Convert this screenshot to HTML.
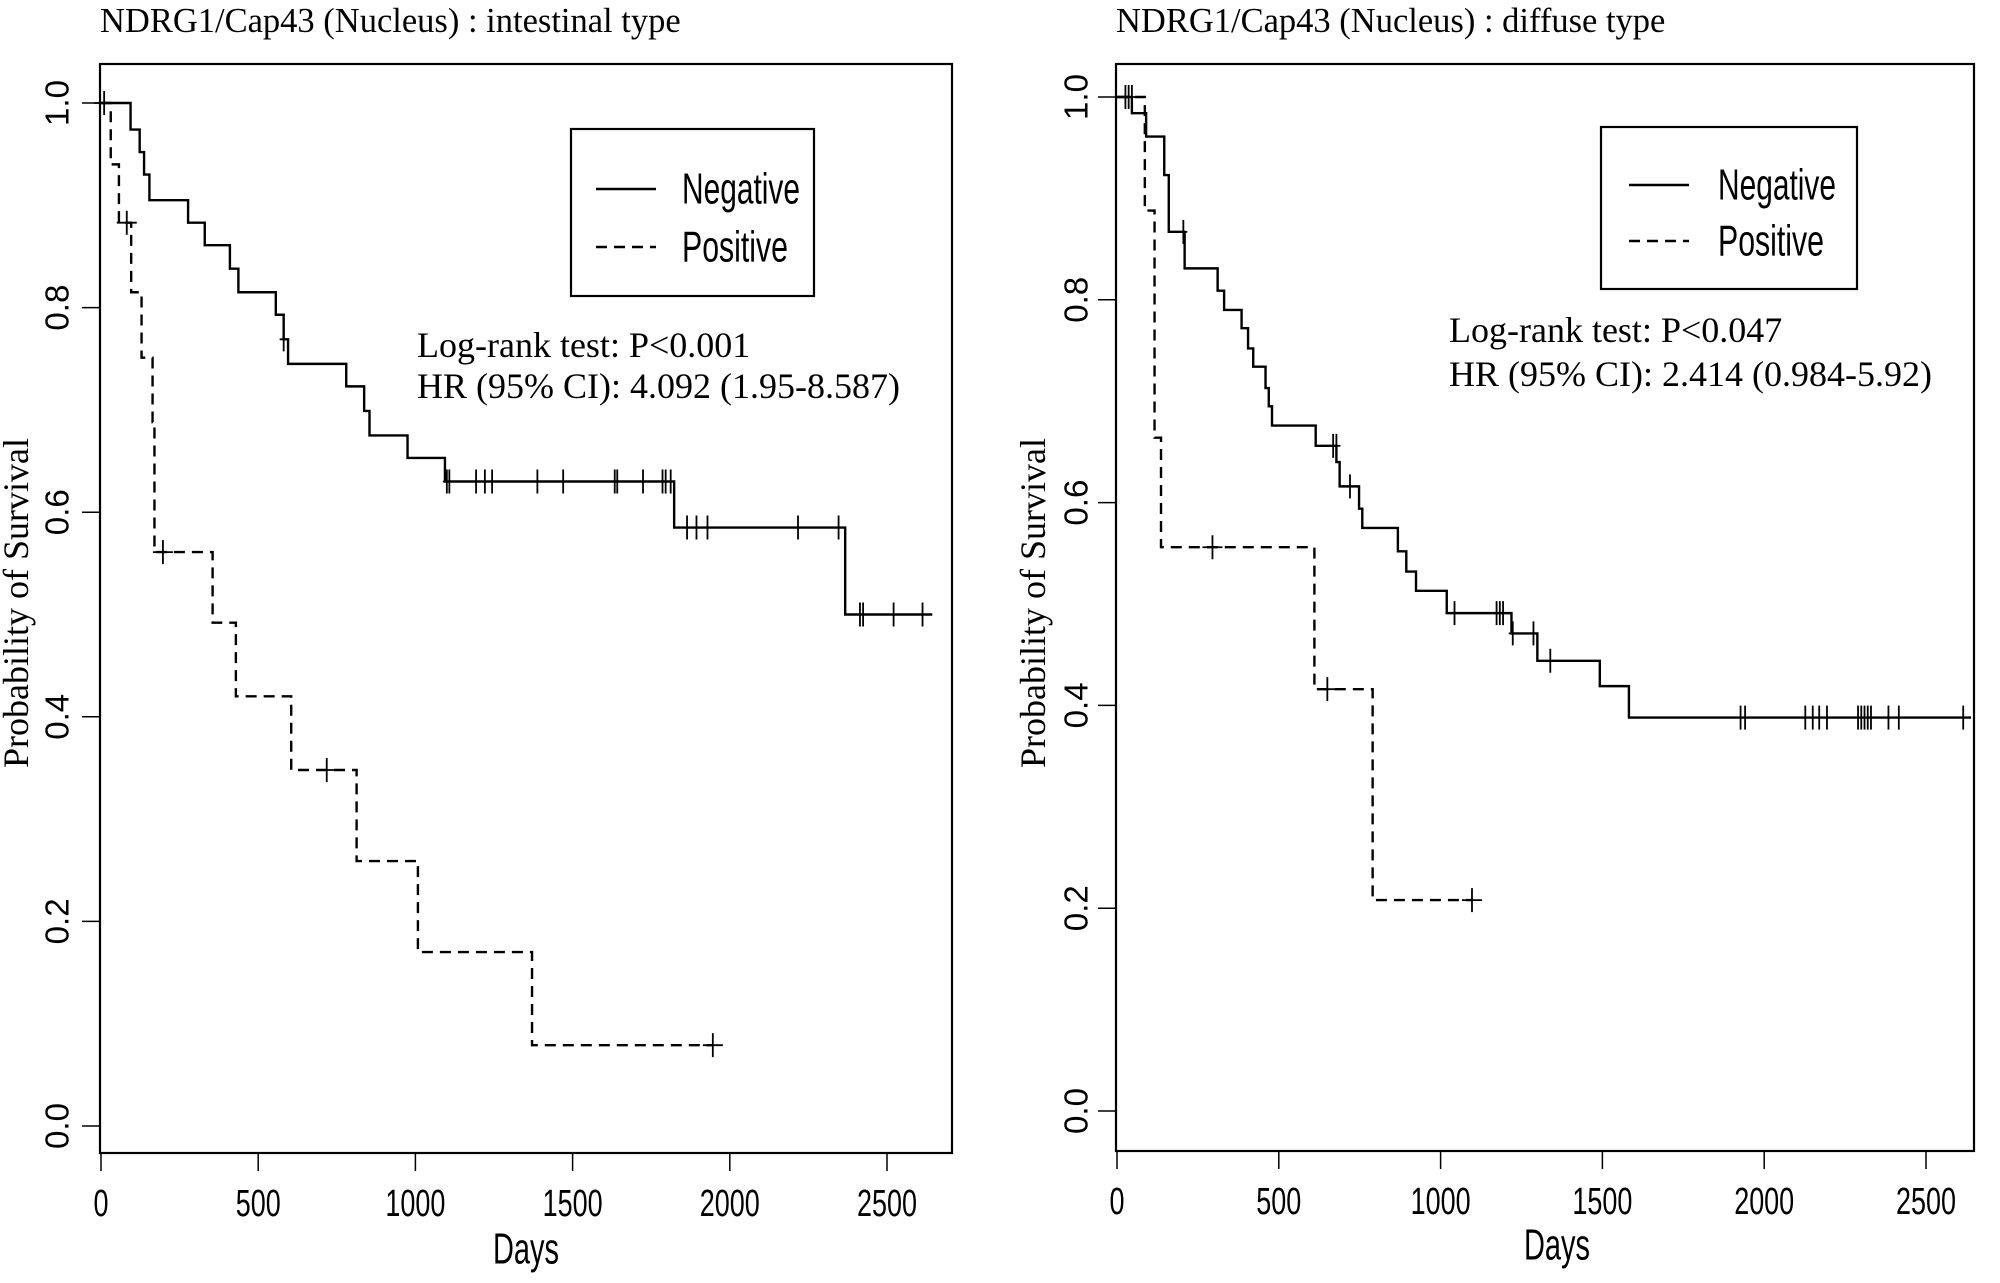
<!DOCTYPE html>
<html><head><meta charset="utf-8"><style>
html,body{margin:0;padding:0;background:#fff;}
svg{display:block;}
</style></head><body>
<svg id="chart" width="2000" height="1283" viewBox="0 0 2000 1283" xmlns="http://www.w3.org/2000/svg"></svg>
<script>
// ---- Data: left panel (intestinal type) ----
const leftNegSteps = [[0,1.0],[94,0.974],[123,0.952],[137,0.930],[154,0.905],[277,0.883],[330,0.861],[410,0.838],[437,0.815],[556,0.793],[581,0.769],[595,0.745],[780,0.723],[837,0.699],[854,0.675],[975,0.653],[1094,0.630],[1823,0.585],[2367,0.5]];
const leftNegEnd = 2644;
const leftNegCensor = [[581,0.769],[1100,0.63],[1108,0.63],[1193,0.63],[1221,0.63],[1244,0.63],[1388,0.63],[1470,0.63],[1634,0.63],[1642,0.63],[1724,0.63],[1786,0.63],[1796,0.63],[1812,0.63],[1864,0.585],[1894,0.585],[1929,0.585],[2217,0.585],[2346,0.585],[2414,0.5],[2424,0.5],[2521,0.5],[2613,0.5]];
const leftPosSteps = [[0,1.0],[31,0.94],[57,0.883],[96,0.815],[129,0.751],[164,0.688],[170,0.561],[355,0.492],[429,0.42],[605,0.348],[813,0.259],[1008,0.17],[1371,0.079]];
const leftPosEnd = 1946;
const leftPosCensor = [[10,1.0],[82,0.883],[197,0.561],[718,0.348],[1946,0.079]];
// ---- Data: right panel (diffuse type) ----
const rightNegSteps = [[0,1.0],[46,0.984],[90,0.961],[146,0.923],[160,0.867],[209,0.831],[311,0.809],[331,0.79],[385,0.772],[405,0.752],[421,0.734],[459,0.713],[469,0.695],[479,0.676],[614,0.656],[678,0.64],[688,0.616],[748,0.594],[758,0.575],[868,0.552],[894,0.532],[924,0.513],[1019,0.491],[1219,0.471],[1299,0.444],[1492,0.419],[1582,0.388]];
const rightNegEnd = 2639;
const rightNegCensor = [[26,1.0],[36,1.0],[46,1.0],[205,0.867],[668,0.656],[678,0.656],[720,0.616],[1043,0.491],[1173,0.491],[1183,0.491],[1193,0.491],[1223,0.471],[1287,0.471],[1339,0.444],[1927,0.388],[1941,0.388],[2127,0.388],[2150,0.388],[2170,0.388],[2194,0.388],[2290,0.388],[2300,0.388],[2310,0.388],[2320,0.388],[2330,0.388],[2384,0.388],[2416,0.388],[2615,0.388]];
const rightPosSteps = [[0,1.0],[86,0.888],[116,0.664],[136,0.556],[610,0.416],[790,0.208]];
const rightPosEnd = 1097;
const rightPosCensor = [[295,0.556],[650,0.416],[1097,0.208]];
const xTicks = [0,500,1000,1500,2000,2500];
const yTicks = [0.0,0.2,0.4,0.6,0.8,1.0];
const yTickLabels = ["0.0","0.2","0.4","0.6","0.8","1.0"];
const titles = ["NDRG1/Cap43 (Nucleus) : intestinal type","NDRG1/Cap43 (Nucleus) : diffuse type"];
const stats = [["Log-rank test: P<0.001","HR (95% CI): 4.092 (1.95-8.587)"],["Log-rank test: P<0.047","HR (95%  CI): 2.414 (0.984-5.92)"]];

const NS='http://www.w3.org/2000/svg';
const svg=document.getElementById('chart');
function mk(tag,attrs,parent){const e=document.createElementNS(NS,tag);for(const k in attrs)e.setAttribute(k,attrs[k]);(parent||svg).appendChild(e);return e;}

function panel(p){
  const g=mk('g',{});
  
  
  const X=d=>p.x0+d*p.xs, Y=s=>p.y0-s*p.ys;
  const t=mk('text',{x:p.box[0],y:21,'dominant-baseline':'central','font-family':'Liberation Serif, serif','font-size':34.5,fill:'#000'},g);
  t.textContent=p.title;
  
  
  const box=mk('rect',{x:p.box[0],y:p.box[1],width:p.box[2]-p.box[0],height:p.box[3]-p.box[1],fill:'none',stroke:'#000','stroke-width':2.2},g);
  
  
  mk('line',{x1:p.box[0],x2:p.box[0],y1:Y(0),y2:Y(1),stroke:'#000','stroke-width':1.5},g);
  yTicks.forEach((v,i)=>{
    mk('line',{x1:p.box[0]-18,x2:p.box[0],y1:Y(v),y2:Y(v),stroke:'#000','stroke-width':1.5},g);
    const l=mk('text',{x:0,y:0,transform:`translate(${p.ylx},${Y(v)}) rotate(-90)`,'text-anchor':'middle','dominant-baseline':'central','font-family':'Liberation Sans, sans-serif','font-size':33,fill:'#000',textLength:46,lengthAdjust:'spacingAndGlyphs'},g);
    l.textContent=yTickLabels[i];
    
    
  });
  xTicks.forEach(v=>{
    mk('line',{x1:X(v),x2:X(v),y1:p.box[3],y2:p.box[3]+18,stroke:'#000','stroke-width':1.5},g);
    const l=mk('text',{x:X(v),y:p.xly,'text-anchor':'middle','dominant-baseline':'central','font-family':'Liberation Sans, sans-serif','font-size':38,fill:'#000',textLength:String(v).length*15,lengthAdjust:'spacingAndGlyphs'},g);
    l.textContent=String(v);
    
    
  });
  const xt=mk('text',{x:p.daysX,y:p.daysY,'text-anchor':'middle','dominant-baseline':'central','font-family':'Liberation Sans, sans-serif','font-size':44,fill:'#000',textLength:66,lengthAdjust:'spacingAndGlyphs'},g);
  xt.textContent='Days';
  
  
  const yt=mk('text',{x:0,y:0,transform:`translate(${p.ytx},603) rotate(-90)`,'text-anchor':'middle','dominant-baseline':'central','font-family':'Liberation Serif, serif','font-size':36,fill:'#000'},g);
  yt.textContent='Probability of  Survival';
  
  
  function curve(steps,end,dash,name){
    let d=`M${X(steps[0][0])},${Y(steps[0][1])}`;
    for(let i=1;i<steps.length;i++){d+=` H${X(steps[i][0])} V${Y(steps[i][1])}`;}
    d+=` H${X(end)}`;
    const c=mk('path',{d,fill:'none',stroke:'#000','stroke-width':2.4,'stroke-dasharray':dash?'11 7':'none'},g);
    
    
  }
  function cens(arr,name,hw){
    arr.forEach(([d,s])=>{
      const m=mk('path',{d:`M${X(d)},${Y(s)-12} V${Y(s)+12} M${X(d)-hw},${Y(s)} H${X(d)+hw}`,stroke:'#000','stroke-width':1.8,fill:'none'},g);
      
      
    });
  }
  curve(p.neg,p.negEnd,false,'negative-curve');
  curve(p.pos,p.posEnd,true,'positive-curve');
  cens(p.negC,'negative-censor-mark',4);
  cens(p.posC,'positive-censor-mark',10);
  const L=p.leg;
  const lg=mk('g',{},g);
  
  
  mk('rect',{x:L[0],y:L[1],width:L[2]-L[0],height:L[3]-L[1],fill:'#fff',stroke:'#000','stroke-width':2.2},lg);
  [['Negative',false,L[5]],['Positive',true,L[6]]].forEach(([txt,dash,yy])=>{
    mk('line',{x1:L[4],x2:L[4]+60,y1:yy,y2:yy,stroke:'#000','stroke-width':2.4,'stroke-dasharray':dash?'11 7':'none'},lg);
    const tx=mk('text',{x:L[7],y:yy,'dominant-baseline':'central','font-family':'Liberation Sans, sans-serif','font-size':44,fill:'#000',textLength:txt==='Negative'?118:106,lengthAdjust:'spacingAndGlyphs'},lg);
    tx.textContent=txt;
    
    
  });
  p.stats.forEach((s,i)=>{
    const st=mk('text',{x:p.stX,y:p.stY[i],'dominant-baseline':'central','font-family':'Liberation Serif, serif','font-size':36,fill:'#000'},g);
    st.textContent=s;
    
    
  });
}

panel({name:'intestinal-panel',title:titles[0],box:[100,64,952,1153],x0:101,xs:157.2/500,y0:1126,ys:1023,ylx:57,xly:1204,daysX:526,daysY:1249,ytx:16,
  neg:leftNegSteps,negEnd:leftNegEnd,negC:leftNegCensor,pos:leftPosSteps,posEnd:leftPosEnd,posC:leftPosCensor,
  leg:[571,129,814,296,596,189,247,682],stats:stats[0],stX:417,stY:[345,386]});
panel({name:'diffuse-panel',title:titles[1],box:[1116,64,1974,1151],x0:1117,xs:161.8/500,y0:1111,ys:1014,ylx:1076,xly:1202,daysX:1557,daysY:1245,ytx:1033,
  neg:rightNegSteps,negEnd:rightNegEnd,negC:rightNegCensor,pos:rightPosSteps,posEnd:rightPosEnd,posC:rightPosCensor,
  leg:[1601,127,1857,289,1629,185,241,1718],stats:stats[1],stX:1449,stY:[330,374]});
</script>
</body></html>
